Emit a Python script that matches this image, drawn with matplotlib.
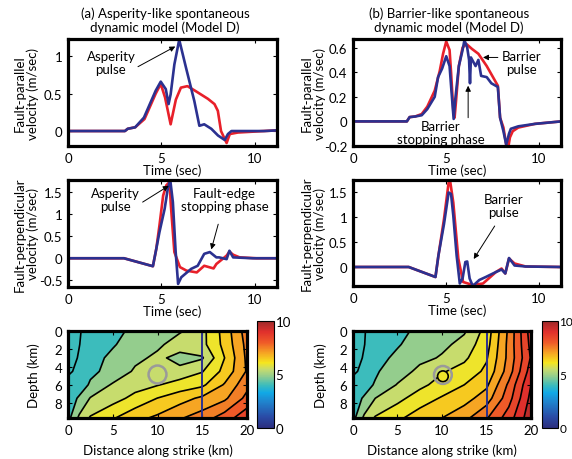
import numpy as np
import matplotlib
matplotlib.use('Agg')
import matplotlib.pyplot as plt
from matplotlib.colors import LinearSegmentedColormap, Normalize
from matplotlib.cm import ScalarMappable
from matplotlib.patches import Circle
from matplotlib.ticker import FormatStrFormatter

plt.rcParams['font.family'] = ['Lato', 'DejaVu Sans']
plt.rcParams['font.size'] = 9

RED = '#e8202a'
BLUE = '#2b3190'

# ---- fault-parallel velocity, asperity model (a)
par_a_t_red = [0, 3.05, 3.2, 3.6, 4.1, 4.7, 4.97, 5.2, 5.5, 5.78, 6.05, 6.4, 6.8, 7.5, 7.85, 8.03, 8.2, 8.5, 8.67, 9.1, 10.5, 11.3]
par_a_v_red = [0, 0, 0.03, 0.05, 0.16, 0.5, 0.63, 0.45, 0.09, 0.42, 0.58, 0.6, 0.54, 0.43, 0.36, 0.27, 0.0, -0.16, -0.04, -0.02, 0.0, 0.01]
par_a_t_blue = [0, 3.05, 3.2, 3.6, 4.07, 4.7, 4.97, 5.24, 5.39, 5.5, 5.7, 5.96, 6.32, 6.77, 7.04, 7.3, 7.68, 8.04, 8.4, 8.57, 8.76, 10.5, 11.3]
par_a_v_blue = [0, 0, 0.03, 0.05, 0.18, 0.54, 0.66, 0.56, 0.36, 0.49, 0.89, 1.22, 0.85, 0.4, 0.07, 0.09, 0.03, -0.06, -0.12, -0.04, 0.0, 0.0, 0.01]

# ---- fault-parallel velocity, barrier model (b)
par_b_t_red = [0, 2.9, 3.05, 3.35, 3.7, 4.0, 4.4, 4.67, 4.85, 5.02, 5.2, 5.28, 5.4, 5.47, 5.55, 5.7, 5.9, 6.1, 6.4, 6.75, 7.2, 7.5, 7.8, 7.92, 8.1, 8.25, 8.35, 8.45, 8.6, 8.9, 9.8, 11.2]
par_b_v_red = [0, 0, 0.035, 0.04, 0.06, 0.12, 0.25, 0.41, 0.55, 0.65, 0.58, 0.4, 0.09, 0.03, 0.17, 0.45, 0.6, 0.63, 0.59, 0.55, 0.45, 0.37, 0.29, 0.03, -0.05, -0.19, -0.22, -0.13, -0.08, -0.05, -0.02, 0]
par_b_t_blue = [0, 2.9, 3.05, 3.35, 3.7, 4.0, 4.4, 4.58, 4.8, 5.02, 5.2, 5.3, 5.42, 5.5, 5.7, 5.9, 6.0, 6.15, 6.25, 6.3, 6.35, 6.6, 6.75, 6.9, 7.2, 7.45, 7.8, 7.92, 8.1, 8.25, 8.4, 8.5, 8.9, 9.8, 11.2]
par_b_v_blue = [0, 0, 0.035, 0.04, 0.05, 0.1, 0.2, 0.36, 0.43, 0.53, 0.45, 0.25, 0.02, 0.17, 0.45, 0.58, 0.66, 0.6, 0.5, 0.31, 0.52, 0.45, 0.5, 0.37, 0.36, 0.31, 0.28, 0.03, -0.08, -0.19, -0.1, -0.06, -0.04, -0.02, 0]

# ---- fault-perpendicular velocity, asperity model (a)
per_a_t_red = [0, 3.0, 4.55, 4.73, 4.9, 5.1, 5.27, 5.45, 5.5, 5.7, 6.0, 6.35, 6.9, 7.3, 7.8, 7.95, 8.5, 8.65, 8.85, 9.2, 10.1, 11.3]
per_a_v_red = [0, 0, -0.18, 0.21, 0.74, 1.42, 1.65, 1.73, 1.27, 0.14, -0.2, -0.28, -0.32, -0.17, -0.23, -0.13, 0.06, 0.15, 0.08, 0.02, 0, 0]
per_a_t_blue = [0, 3.0, 4.55, 4.73, 4.9, 5.18, 5.35, 5.48, 5.62, 5.77, 5.9, 6.07, 6.6, 6.95, 7.3, 7.6, 7.95, 8.1, 8.5, 8.65, 8.85, 9.9, 11.3]
per_a_v_blue = [0, 0, -0.18, 0.21, 0.59, 1.12, 1.58, 1.77, 1.27, 0.14, -0.58, -0.43, -0.24, -0.17, 0.1, 0.14, 0.02, 0.02, -0.02, 0.17, 0.02, 0, 0]

# ---- fault-perpendicular velocity, barrier model (b)
per_b_t_red = [0, 3.0, 4.44, 4.6, 4.9, 5.15, 5.23, 5.4, 5.67, 5.93, 6.45, 7.0, 7.7, 8.0, 8.2, 8.4, 8.7, 9.3, 11.2]
per_b_v_red = [0, 0, -0.2, 0.23, 0.96, 1.69, 1.72, 1.29, 0.17, -0.3, -0.36, -0.33, -0.1, -0.03, -0.13, 0.17, 0.07, 0.01, 0]
per_b_t_blue = [0, 3.0, 4.44, 4.6, 4.9, 5.15, 5.28, 5.4, 5.58, 5.75, 5.9, 6.05, 6.15, 6.28, 6.45, 6.8, 7.15, 7.7, 8.0, 8.2, 8.4, 8.7, 9.3, 11.2]
per_b_v_blue = [0, 0, -0.2, 0.23, 0.86, 1.49, 1.46, 1.03, 0.23, -0.33, -0.23, 0.1, 0.11, -0.23, -0.38, -0.26, -0.2, -0.1, -0.05, -0.13, 0.18, 0.03, 0.01, 0]

# ---- rupture time maps (sec), rows = depth, columns = distance along strike
grid_x = [0, 1.25, 2.5, 5, 7.5, 10, 12.5, 15, 17.5, 20]
grid_depth = [0, 1.5, 3, 4.5, 6, 7.5, 9.7]
rupture_a = [
    [3.80, 3.97, 4.15, 4.35, 4.62, 4.95, 5.18, 5.60, 6.45, 7.50],
    [3.82, 3.99, 4.18, 4.45, 4.75, 5.10, 5.60, 5.60, 6.40, 7.40],
    [3.85, 4.03, 4.30, 4.62, 5.05, 5.42, 5.00, 5.20, 6.25, 7.35],
    [3.93, 4.10, 4.42, 4.62, 5.38, 5.55, 5.45, 5.72, 6.40, 7.30],
    [4.15, 4.30, 4.55, 5.35, 5.55, 5.72, 5.95, 6.15, 6.80, 7.60],
    [4.30, 4.55, 5.30, 5.55, 5.90, 6.26, 6.55, 6.85, 7.15, 7.90],
    [4.25, 5.40, 5.80, 6.20, 6.60, 6.85, 7.20, 7.50, 8.00, 8.60],
]
rupture_b = [
    [3.80, 3.98, 4.15, 4.35, 4.62, 4.95, 5.18, 5.95, 7.35, 9.00],
    [3.82, 3.99, 4.18, 4.45, 4.75, 5.10, 5.45, 6.05, 7.40, 8.90],
    [3.85, 4.03, 4.30, 4.62, 5.05, 5.32, 5.65, 6.20, 7.40, 8.80],
    [3.93, 4.10, 4.42, 4.85, 5.45, 5.70, 5.95, 6.35, 7.50, 9.00],
    [4.15, 4.30, 4.55, 5.30, 5.62, 5.95, 6.25, 6.65, 7.85, 9.25],
    [4.30, 4.55, 5.25, 5.60, 6.00, 6.30, 6.55, 7.00, 8.05, 9.40],
    [4.25, 5.40, 5.80, 6.15, 6.50, 6.75, 7.10, 7.70, 8.50, 9.60],
]
fill_levels = [3.5, 4.5, 5.25, 5.75, 6.25, 6.75, 7.25, 7.75, 8.25, 8.75, 9.25, 9.75]
line_levels = [4.0, 4.5, 5.25, 5.75, 6.25, 6.75, 7.25, 7.75, 8.25, 8.75, 9.25]
hypocenter = (10.0, 4.85, 1.0)
barrier_patch = (10.1, 5.05, 0.6)
station_x = 15

cmap = LinearSegmentedColormap.from_list('softjet', [
    (0.00, '#2b2e7e'), (0.10, '#2a4aa5'), (0.25, '#1f86cf'), (0.33, '#11a9e6'),
    (0.40, '#3cbcbc'), (0.48, '#8fcc90'), (0.55, '#c8dc6c'), (0.61, '#f6e61e'),
    (0.70, '#f6a623'), (0.80, '#ef5a28'), (0.90, '#e0302c'), (1.00, '#9e2a2b')])
norm = Normalize(0, 10)

W, H = 572, 460
fig = plt.figure(figsize=(W / 100, H / 100), dpi=100)


def px_axes(x0, y0, x1, y1):
    return fig.add_axes([x0 / W, 1 - y1 / H, (x1 - x0) / W, (y1 - y0) / H])


def frame(ax, lw=2.3):
    for s in ax.spines.values():
        s.set_linewidth(lw)
    ax.tick_params(direction='in', length=3, width=0.8, pad=4, labelsize=9.5,
                   top=True, right=True)


def trace_panel(ax, tr, vr, tb, vb, ylim, yticks, ylabel, lx):
    ax.plot(tr, vr, color=RED, lw=1.9)
    ax.plot(tb, vb, color=BLUE, lw=1.9)
    ax.set_xlim(0, 11.2)
    ax.set_ylim(*ylim)
    ax.set_xticks([0, 5, 10])
    ax.set_yticks(yticks)
    ax.yaxis.set_major_formatter(FormatStrFormatter('%g'))
    ax.set_xlabel('Time (sec)', fontsize=9.5)
    ax.xaxis.set_label_coords(0.5, -0.165)
    ax.set_ylabel(ylabel, fontsize=9.5, linespacing=1.05)
    ax.yaxis.set_label_coords(lx, 0.5)
    frame(ax)


def arrow(ax, text, xy, xytext, tx, ty):
    ax.annotate('', xy=xy, xytext=xytext,
                arrowprops=dict(arrowstyle='-|>', color='black', lw=0.7,
                                mutation_scale=8, shrinkA=0, shrinkB=0))
    ax.text(tx, ty, text, ha='center', va='center', fontsize=9.5, linespacing=1.1)


ax1 = px_axes(68, 40, 277, 147)
trace_panel(ax1, par_a_t_red, par_a_v_red, par_a_t_blue, par_a_v_blue,
            (-0.2, 1.23), [0, 0.5, 1], 'Fault-parallel\nvelocity (m/sec)', -0.14)
arrow(ax1, 'Asperity\npulse', (5.75, 1.13), (3.75, 0.86), 2.3, 0.92)

ax2 = px_axes(353, 40, 561, 147)
trace_panel(ax2, par_b_t_red, par_b_v_red, par_b_t_blue, par_b_v_blue,
            (-0.2, 0.67), [-0.2, 0, 0.2, 0.4, 0.6], 'Fault-parallel\nvelocity (m/sec)', -0.13)
arrow(ax2, 'Barrier\npulse', (7.0, 0.52), (7.8, 0.52), 9.05, 0.48)
arrow(ax2, 'Barrier\nstopping phase', (6.2, 0.29), (6.2, 0.03), 4.74, -0.09)

ax3 = px_axes(68, 181, 277, 288)
trace_panel(ax3, per_a_t_red, per_a_v_red, per_a_t_blue, per_a_v_blue,
            (-0.65, 1.77), [-0.5, 0, 0.5, 1, 1.5], 'Fault-perpendicular\nvelocity (m/sec)', -0.14)
arrow(ax3, 'Asperity\npulse', (5.4, 1.64), (4.0, 1.27), 2.55, 1.34)
arrow(ax3, 'Fault-edge\nstopping phase', (7.68, 0.2), (8.05, 0.77), 8.4, 1.34)

ax4 = px_axes(353, 181, 561, 287)
trace_panel(ax4, per_b_t_red, per_b_v_red, per_b_t_blue, per_b_v_blue,
            (-0.38, 1.74), [0, 0.5, 1, 1.5], 'Fault-perpendicular\nvelocity (m/sec)', -0.13)
arrow(ax4, 'Barrier\npulse', (6.5, 0.16), (7.63, 0.82), 8.1, 1.22)


def map_panel(ax, cax, field, lx, cb_size, patch=None):
    X, Z = np.meshgrid(grid_x, grid_depth)
    T = np.array(field)
    ax.contourf(X, Z, T, levels=fill_levels, cmap=cmap, norm=norm)
    ax.contour(X, Z, T, levels=line_levels, colors='k', linewidths=1.2)
    ax.axvline(station_x, color=BLUE, lw=1.4)
    if patch is not None:
        ax.add_patch(Circle(patch[:2], patch[2], fc=cmap(norm(6.0)), ec='k', lw=1.2, zorder=4))
    ax.add_patch(Circle(hypocenter[:2] if patch is None else (patch[0], patch[1] - 0.15),
                        hypocenter[2], fill=False, ec='#9a9a9a', lw=1.8, zorder=5))
    ax.set_xlim(0, 20)
    ax.set_ylim(9.7, 0)
    ax.set_xticks([0, 5, 10, 15, 20])
    ax.set_yticks([0, 2, 4, 6, 8])
    ax.set_xlabel('Distance along strike (km)', fontsize=9.5)
    ax.xaxis.set_label_coords(0.5, -0.29)
    ax.set_ylabel('Depth (km)', fontsize=9.5)
    ax.yaxis.set_label_coords(lx, 0.5)
    frame(ax)
    cb = fig.colorbar(ScalarMappable(norm=norm, cmap=cmap), cax=cax, ticks=[0, 5, 10])
    cb.outline.set_linewidth(0.8)
    cax.tick_params(length=0, labelsize=cb_size, pad=1)


map_panel(px_axes(68, 332, 247, 419), px_axes(257, 322, 274, 429), rupture_a, -0.155, 9.5)
map_panel(px_axes(353, 332, 531, 419), px_axes(542, 322, 558, 429), rupture_b, -0.145, 8.5,
          barrier_patch)

fig.text(165 / W, 1 - 21 / H, '(a) Asperity-like spontaneous\ndynamic model (Model D)',
         ha='center', va='center', fontsize=9.5, linespacing=1.1)
fig.text(449 / W, 1 - 21 / H, '(b) Barrier-like spontaneous\ndynamic model (Model D)',
         ha='center', va='center', fontsize=9.5, linespacing=1.1)

fig.savefig('out.png', dpi=100)
